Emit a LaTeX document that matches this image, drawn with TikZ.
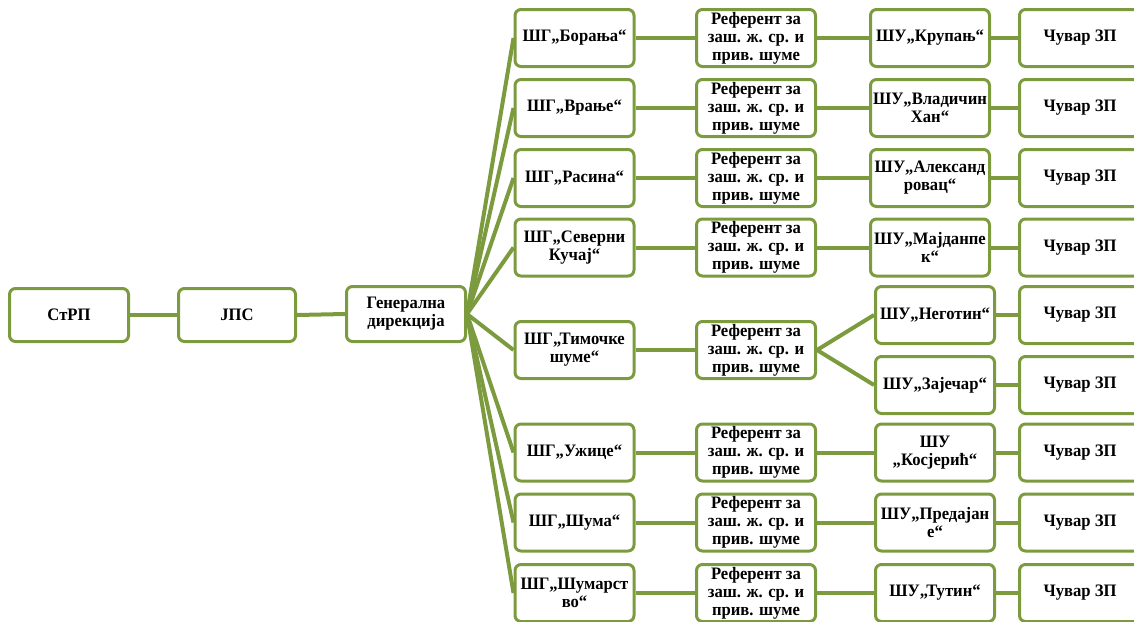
\documentclass[tikz,border=0pt]{standalone}
\usepackage{fontspec}
\setmainfont{Liberation Serif}[FakeStretch=0.95]
\definecolor{grn}{RGB}{124,155,62}
\begin{document}
\begin{tikzpicture}[x=1pt,y=-1pt,
  box/.style={draw=grn, line width=3pt, rounded corners=6pt, fill=white,
    minimum width=119pt, minimum height=57pt, align=center, inner sep=0pt,
    font=\bfseries\fontsize{17.5pt}{18pt}\selectfont},
  link/.style={draw=grn, line width=4pt}]
\useasboundingbox (0,0) rectangle (1134,621);
\clip (0,0) rectangle (1134,621);
% left chain
\node[box, minimum height=53pt] (strp) at (69,315) {СтРП};
\node[box, minimum height=53pt, minimum width=117pt] (jps) at (237,315) {ЈПС};
\node[box, minimum height=55pt] (gd) at (406,314) {Генерална\\дирекција};
% SHG column
\node[box] (g1) at (574.5,38) {ШГ„Борања“};
\node[box] (g2) at (574.5,108) {ШГ„Врање“};
\node[box] (g3) at (574.5,178) {ШГ„Расина“};
\node[box] (g4) at (574.5,247.5) {ШГ„Северни\\Кучај“};
\node[box] (g5) at (574.5,350) {ШГ„Тимочке\\шуме“};
\node[box] (g6) at (574.5,452.5) {ШГ„Ужице“};
\node[box] (g7) at (574.5,522.5) {ШГ„Шума“};
\node[box] (g8) at (574.5,593) {ШГ„Шумарст\\во“};
% referent column
\node[box] (r1) at (756,38) {Референт за\\заш. ж. ср. и\\прив. шуме};
\node[box] (r2) at (756,108) {Референт за\\заш. ж. ср. и\\прив. шуме};
\node[box] (r3) at (756,178) {Референт за\\заш. ж. ср. и\\прив. шуме};
\node[box] (r4) at (756,247.5) {Референт за\\заш. ж. ср. и\\прив. шуме};
\node[box] (r5) at (756,350) {Референт за\\заш. ж. ср. и\\прив. шуме};
\node[box] (r6) at (756,452.5) {Референт за\\заш. ж. ср. и\\прив. шуме};
\node[box] (r7) at (756,522.5) {Референт за\\заш. ж. ср. и\\прив. шуме};
\node[box] (r8) at (756,593) {Референт за\\заш. ж. ср. и\\прив. шуме};
% SHU column
\node[box] (u1) at (930,38) {ШУ„Крупањ“};
\node[box] (u2) at (930,108) {ШУ„Владичин\\Хан“};
\node[box] (u3) at (930,178) {ШУ„Александ\\ровац“};
\node[box] (u4) at (930,247.5) {ШУ„Мајданпе\\к“};
\node[box] (u5a) at (935,315) {ШУ„Неготин“};
\node[box] (u5b) at (935,385) {ШУ„Зајечар“};
\node[box] (u6) at (935,452.5) {ШУ\\„Косјерић“};
\node[box] (u7) at (935,522.5) {ШУ„Предајан\\е“};
\node[box] (u8) at (935,593) {ШУ„Тутин“};
% guard column
\node[box, minimum width=121pt] (c1) at (1080,38) {Чувар ЗП};
\node[box, minimum width=121pt] (c2) at (1080,108) {Чувар ЗП};
\node[box, minimum width=121pt] (c3) at (1080,178) {Чувар ЗП};
\node[box, minimum width=121pt] (c4) at (1080,247.5) {Чувар ЗП};
\node[box, minimum width=121pt] (c5a) at (1080,315) {Чувар ЗП};
\node[box, minimum width=121pt] (c5b) at (1080,385) {Чувар ЗП};
\node[box, minimum width=121pt] (c6) at (1080,452.5) {Чувар ЗП};
\node[box, minimum width=121pt] (c7) at (1080,522.5) {Чувар ЗП};
\node[box, minimum width=121pt] (c8) at (1080,593) {Чувар ЗП};
% connectors
\draw[link] (strp.east) -- (jps.west);
\draw[link] (jps.east) -- (gd.west);
\foreach \g in {g1,g2,g3,g4,g5,g6,g7,g8}
  \draw[link] (gd.east) -- (\g.west);
\foreach \i in {1,2,3,4,5,6,7,8}
  \draw[link] (g\i.east) -- (r\i.west);
\foreach \i in {1,2,3,4,6,7,8}
  \draw[link] (r\i.east) -- (u\i.west);
\draw[link] (r5.east) -- (u5a.west);
\draw[link] (r5.east) -- (u5b.west);
\foreach \i in {1,2,3,4,5a,5b,6,7,8}
  \draw[link] (u\i.east) -- (c\i.west);
\end{tikzpicture}
\end{document}
